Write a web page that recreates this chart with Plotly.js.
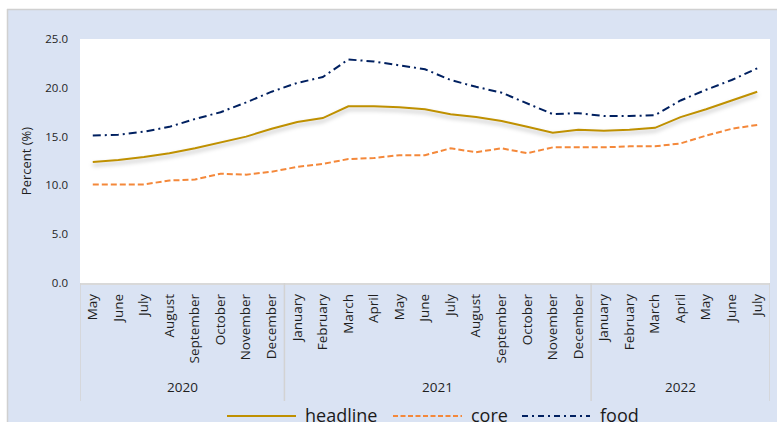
<!DOCTYPE html>
<html>
<head>
<meta charset="utf-8">
<script src="https://cdn.plot.ly/plotly-3.0.1.min.js"></script>
<style>
html,body{margin:0;padding:0;background:#fff;}
#chart{width:777px;height:422px;}
.scatterlayer .trace:first-child .js-line{filter:drop-shadow(0px 3px 2px rgba(0,0,0,0.28));}
</style>
</head>
<body>
<div id="chart"></div>
<script>
// ---- data ----
const years = ["2020","2020","2020","2020","2020","2020","2020","2020",
  "2021","2021","2021","2021","2021","2021","2021","2021","2021","2021","2021","2021",
  "2022","2022","2022","2022","2022","2022","2022"];
const months = ["May","June","July","August","September","October","November","December",
  "January","February","March","April","May","June","July","August","September","October","November","December",
  "January","February","March","April","May","June","July"];
const headline = [12.4,12.6,12.9,13.3,13.8,14.4,15.0,15.8,
  16.5,16.9,18.1,18.1,18.0,17.8,17.3,17.0,16.6,16.0,15.4,15.7,
  15.6,15.7,15.9,17.0,17.8,18.7,19.6];
const core = [10.1,10.1,10.1,10.5,10.6,11.2,11.1,11.4,
  11.9,12.2,12.7,12.8,13.1,13.1,13.8,13.4,13.8,13.3,13.9,13.9,
  13.9,14.0,14.0,14.3,15.1,15.8,16.2];
const food = [15.1,15.2,15.5,16.0,16.8,17.5,18.5,19.6,
  20.5,21.1,22.9,22.7,22.3,21.9,20.8,20.1,19.5,18.4,17.3,17.4,
  17.1,17.1,17.2,18.7,19.8,20.8,22.0];
const yearLabels = ["2020","2021","2022"];
const seriesNames = ["headline","core","food"];
const seriesColors = ["#BF9000","#F4883A","#002060"];
const yTicks = [0,5,10,15,20,25];

// unique category keys, displayed with month names
const keys = months.map((m,i) => m + " " + years[i]);

const traces = [
  {x:keys, y:headline, name:seriesNames[0], type:"scatter", mode:"lines",
   line:{color:seriesColors[0], width:2}},
  {x:keys, y:core, name:seriesNames[1], type:"scatter", mode:"lines",
   line:{color:seriesColors[1], width:2, dash:"6px,3px"}},
  {x:keys, y:food, name:seriesNames[2], type:"scatter", mode:"lines",
   line:{color:seriesColors[2], width:2, dash:"8px,4px,2px,4px"}}
];

// plot area in px: x 80..770, y 39..283
const L=80, R=770, T=39, B=283, W=R-L, H=B-T;
const px = v => (v-L)/W;
const py = v => (B-v)/H;

const shapes = [
  {type:"rect", xref:"paper", yref:"paper", x0:px(0), x1:px(777), y0:py(9), y1:py(0),
   fillcolor:"#ffffff", line:{width:0}, layer:"above"},
  {type:"rect", xref:"paper", yref:"paper", x0:px(0), x1:px(7), y0:py(422), y1:py(0),
   fillcolor:"#ffffff", line:{width:0}, layer:"above"},
  {type:"line", xref:"paper", yref:"paper", x0:px(7), x1:px(777), y0:py(9.5), y1:py(9.5),
   line:{color:"#D0D0D0", width:1.5}},
  {type:"line", xref:"paper", yref:"paper", x0:px(7.5), x1:px(7.5), y0:py(9), y1:py(422),
   line:{color:"#D0D0D0", width:1.5}}
];
const annotations = [];

// year group dividers and labels, derived from the years array
const groups = [];
years.forEach((y,i) => {
  if (!groups.length || groups[groups.length-1].y !== y) groups.push({y:y, start:i, end:i});
  else groups[groups.length-1].end = i;
});
const bounds = [-0.5].concat(groups.map(g => g.end + 0.5));
bounds.forEach(b => shapes.push({type:"line", xref:"x", yref:"paper",
  x0:b, x1:b, y0:py(283), y1:py(401), line:{color:"#D3D3D3", width:1.5}}));
groups.forEach((g,k) => annotations.push({xref:"x", yref:"paper",
  x:(g.start+g.end)/2, y:py(387), xanchor:"center", yanchor:"middle", showarrow:false,
  text:yearLabels[k], font:{family:"Open Sans", size:13.5, color:"#1f1f1f"}}));

// custom legend
const legX = [[227,296,303],[393,462,469],[522,590,598]];
const legDash = ["solid","5px,2.5px","6px,4px,2px,4px"];
for (let i=0;i<3;i++){
  shapes.push({type:"line", xref:"paper", yref:"paper",
    x0:px(legX[i][0]), x1:px(legX[i][1]), y0:py(416), y1:py(416),
    line:{color:seriesColors[i], width:2, dash:legDash[i]}});
  annotations.push({xref:"paper", yref:"paper", x:px(legX[i][2]), y:py(415),
    xanchor:"left", yanchor:"middle", showarrow:false, text:seriesNames[i],
    font:{family:"Open Sans", size:18, color:"#1a1a1a"}});
}

const layout = {
  width:777, height:422,
  margin:{l:L, r:777-R, t:T, b:422-B, pad:0},
  paper_bgcolor:"#DAE3F3",
  plot_bgcolor:"#ffffff",
  showlegend:false,
  font:{family:"Open Sans", color:"#1f1f1f"},
  xaxis:{type:"category", range:[-0.5, keys.length-0.5], tickangle:-90,
    tickvals:keys, ticktext:months,
    tickfont:{family:"Open Sans", size:13.5, color:"#1f1f1f"},
    showline:true, linecolor:"#D9D9D9", linewidth:1.5,
    ticks:"", showgrid:false, zeroline:false, ticklabelstandoff:4},
  yaxis:{range:[0,25], tickvals:yTicks, tickformat:".1f",
    tickfont:{family:"Open Sans", size:11.5, color:"#1f1f1f"},
    showgrid:false, zeroline:false, showline:false, ticks:"",
    ticklabelstandoff:11,
    title:{text:"Percent (%)", font:{family:"Open Sans", size:13, color:"#1f1f1f"}, standoff:10}},
  shapes:shapes,
  annotations:annotations
};

Plotly.newPlot("chart", traces, layout, {displayModeBar:false, staticPlot:true});
</script>
</body>
</html>
